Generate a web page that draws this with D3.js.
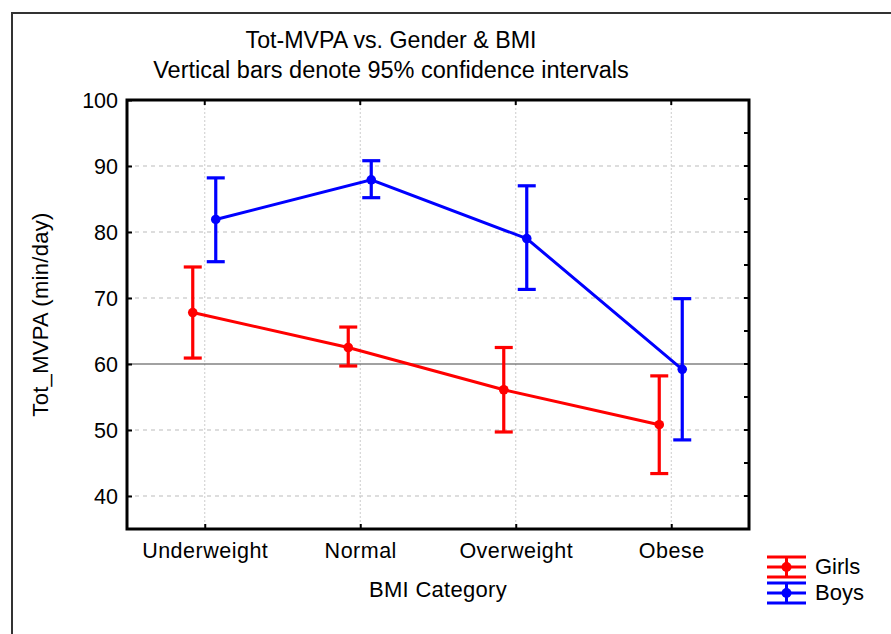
<!DOCTYPE html>
<html><head><meta charset="utf-8">
<script src="https://cdn.jsdelivr.net/npm/d3@7"></script>
<style>
html,body{margin:0;padding:0;background:#fff;}
text{font-family:Arial,"Liberation Sans",sans-serif;fill:#000;}
</style></head>
<body><svg id="c" width="891" height="634"></svg>
<script>
const categories = ["Underweight","Normal","Overweight","Obese"];
const girlsMean  = [67.8, 62.5, 56.1, 50.8];
const girlsLow   = [60.9, 59.7, 49.7, 43.4];
const girlsHigh  = [74.7, 65.6, 62.5, 58.2];
const boysMean   = [81.9, 87.9, 79.0, 59.2];
const boysLow    = [75.5, 85.2, 71.3, 48.5];
const boysHigh   = [88.2, 90.8, 87.0, 69.9];
const yTicks     = [40, 50, 60, 70, 80, 90, 100];
const yMinor     = [40, 45, 50, 55, 60, 65, 70, 75, 80, 85, 90, 95];
const refValue   = 60;
const seriesNames = ["Girls","Boys"];

const series = [
  {name: seriesNames[0], color: "#ff0000", mean: girlsMean, low: girlsLow, high: girlsHigh, off: -12},
  {name: seriesNames[1], color: "#0000ff", mean: boysMean,  low: boysLow,  high: boysHigh,  off: 11}
];

const svg = d3.select("#c");
const L = 127, R = 749, T = 100, B = 529;

// outer frame
svg.append("path").attr("d", "M12,634 V13 H891").attr("fill","none").attr("stroke","#333").attr("stroke-width",2);

const x = d3.scalePoint().domain(categories).range([L, R]).padding(0.5);
const y = d3.scaleLinear().domain([35, 100]).range([B, T]);

// grid
svg.append("g").selectAll("line").data(yTicks.filter(v => v < 100 && v !== refValue)).join("line")
  .attr("x1", L).attr("x2", R).attr("y1", d => y(d)).attr("y2", d => y(d))
  .attr("stroke", "#bbb").attr("stroke-width", 1).attr("stroke-dasharray", "4,4");
svg.append("g").selectAll("line").data(categories).join("line")
  .attr("x1", d => x(d)).attr("x2", d => x(d)).attr("y1", T).attr("y2", B)
  .attr("stroke", "#ccc").attr("stroke-width", 1).attr("stroke-dasharray", "2,2");

// reference line
svg.append("line").attr("x1", L).attr("x2", R).attr("y1", y(refValue)).attr("y2", y(refValue))
  .attr("stroke", "#444").attr("stroke-width", 1.2);

// axes
const leftAxis = d3.axisLeft(y).tickValues(yTicks).tickSize(0).tickPadding(9);
const gl = svg.append("g").attr("transform", `translate(${L},0)`).call(leftAxis);
gl.select(".domain").remove();
gl.selectAll("text").attr("font-size", 21.5).attr("dy", "0.35em");
gl.selectAll(".tick").append("line").attr("x1", 0).attr("x2", 5).attr("stroke", "#000").attr("stroke-width", 2);

const bottomAxis = d3.axisBottom(x).tickSize(0).tickPadding(14);
const gb = svg.append("g").attr("transform", `translate(0,${B})`).call(bottomAxis);
gb.select(".domain").remove();
gb.selectAll("text").attr("font-size", 21.5).attr("letter-spacing", "0.5px");
gb.selectAll(".tick").append("line").attr("y1", 0).attr("y2", -5).attr("stroke", "#000").attr("stroke-width", 2);

// top ticks
svg.append("g").selectAll("line").data(categories).join("line")
  .attr("x1", d => x(d)).attr("x2", d => x(d)).attr("y1", T).attr("y2", T + 5)
  .attr("stroke", "#000").attr("stroke-width", 2);
// right ticks
svg.append("g").selectAll("line").data(yMinor).join("line")
  .attr("x1", R - 5).attr("x2", R).attr("y1", d => y(d)).attr("y2", d => y(d))
  .attr("stroke", "#000").attr("stroke-width", 2);

// plot frame
svg.append("rect").attr("x", L).attr("y", T).attr("width", R - L).attr("height", B - T)
  .attr("fill", "none").attr("stroke", "#000").attr("stroke-width", 3);

// series
const capW = 18;
series.forEach(s => {
  const g = svg.append("g");
  const pts = categories.map((c, i) => ({c, i, xp: x(c) + s.off}));
  g.append("path")
    .attr("d", d3.line().x(d => d.xp).y(d => y(s.mean[d.i]))(pts))
    .attr("fill", "none").attr("stroke", s.color).attr("stroke-width", 3);
  pts.forEach(d => {
    g.append("line").attr("x1", d.xp).attr("x2", d.xp).attr("y1", y(s.low[d.i])).attr("y2", y(s.high[d.i]))
      .attr("stroke", s.color).attr("stroke-width", 3.2);
    [s.low[d.i], s.high[d.i]].forEach(v => {
      g.append("line").attr("x1", d.xp - capW / 2).attr("x2", d.xp + capW / 2)
        .attr("y1", y(v)).attr("y2", y(v)).attr("stroke", s.color).attr("stroke-width", 3.2);
    });
    g.append("circle").attr("cx", d.xp).attr("cy", y(s.mean[d.i])).attr("r", 4.8).attr("fill", s.color);
  });
});

// titles
svg.append("text").attr("x", 391).attr("y", 48).attr("text-anchor", "middle").attr("font-size", 23.2)
  .text("Tot-MVPA vs. Gender & BMI");
svg.append("text").attr("x", 391).attr("y", 78).attr("text-anchor", "middle").attr("font-size", 23.5)
  .text("Vertical bars denote 95% confidence intervals");
svg.append("text").attr("x", (L + R) / 2).attr("y", 597).attr("text-anchor", "middle").attr("font-size", 22)
  .attr("letter-spacing", "0.3px").text("BMI Category");
svg.append("text").attr("transform", `translate(48,${(T + B) / 2}) rotate(-90)`).attr("text-anchor", "middle")
  .attr("font-size", 22).attr("letter-spacing", "0.3px").text("Tot_MVPA (min/day)");

// legend
const lg = svg.append("g");
series.forEach((s, i) => {
  const cy = 567 + i * 26, x0 = 767, x1 = 806, xm = (x0 + x1) / 2;
  const g = lg.append("g");
  [cy - 10, cy, cy + 10].forEach(yy => g.append("line").attr("x1", x0).attr("x2", x1).attr("y1", yy).attr("y2", yy)
    .attr("stroke", s.color).attr("stroke-width", 3));
  g.append("line").attr("x1", xm).attr("x2", xm).attr("y1", cy - 10).attr("y2", cy + 10).attr("stroke", s.color).attr("stroke-width", 3);
  g.append("circle").attr("cx", xm).attr("cy", cy).attr("r", 5).attr("fill", s.color);
  g.append("text").attr("x", 815).attr("y", cy + 7).attr("font-size", 22).text(s.name);
});
</script></body></html>
